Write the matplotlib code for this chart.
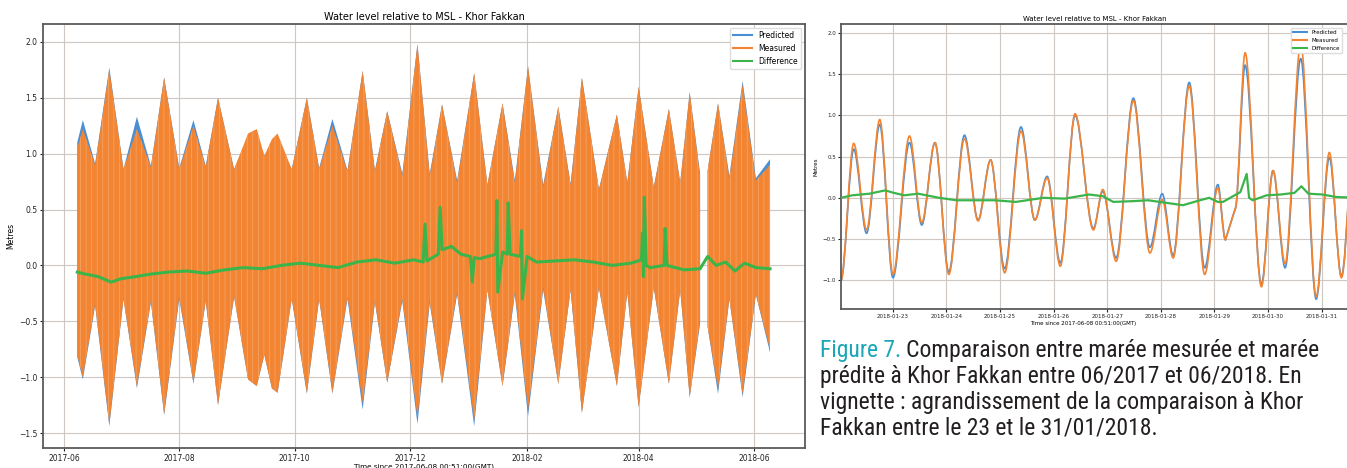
import matplotlib
matplotlib.use("Agg")
import matplotlib.pyplot as plt
import matplotlib.dates as mdates
from matplotlib import font_manager as fm
from matplotlib.path import Path
from matplotlib.patches import PathPatch
from matplotlib.lines import Line2D
import numpy as np
import pandas as pd

BLUE = "#4a8fd4"
ORANGE = "#f28432"
ORANGE_LIGHT = "#f6a96d"
GREEN = "#3bb44a"
SPINE = "#5a5a5a"
GRID = "#cfc7c2"

# main panel: high / low envelope of the series, days since 2017-06-01
env_day = [7.04, 10, 16.5, 24, 31.5, 38.6, 46, 53, 61, 68.5, 75, 81.5, 90, 97.4, 102, 106,
           110, 113, 120.5, 128.5, 135, 142, 150, 158, 164.5, 171, 179, 187, 193.5, 200,
           208, 217, 224, 232, 238.5, 245.5, 253.5, 261.5, 268, 274, 283, 292.5, 298, 304,
           312, 320, 326, 331, 336.5, 338.5, 340.5, 346, 352, 359, 366, 373.5]
env_hi_meas = [1.05, 1.22, 0.90, 1.75, 0.86, 1.22, 0.88, 1.68, 0.86, 1.25, 0.88, 1.50, 0.86, 1.18, 1.22, 0.98,
               1.13, 1.18, 0.86, 1.50, 0.86, 1.25, 0.84, 1.74, 0.84, 1.38, 0.80, 1.98, 0.80, 1.44,
               0.74, 1.72, 0.72, 1.45, 0.74, 1.78, 0.70, 1.42, 0.72, 1.68, 0.68, 1.35, 0.74, 1.60,
               0.70, 1.40, 0.74, 1.55, 0.80, np.nan, 0.85, 1.45, 0.78, 1.62, 0.76, 0.90]
env_hi_pred = [1.10, 1.30, 0.91, 1.77, 0.86, 1.33, 0.89, 1.68, 0.87, 1.30, 0.89, 1.50, 0.86, 1.15, 1.18, 0.98,
               1.08, 1.13, 0.86, 1.50, 0.87, 1.31, 0.85, 1.74, 0.85, 1.38, 0.82, 1.98, 0.82, 1.44,
               0.76, 1.72, 0.72, 1.45, 0.76, 1.78, 0.72, 1.42, 0.73, 1.68, 0.68, 1.35, 0.74, 1.60,
               0.70, 1.40, 0.74, 1.55, 0.82, np.nan, 0.85, 1.45, 0.80, 1.65, 0.78, 0.95]
env_lo_meas = [-0.80, -1.00, -0.35, -1.42, -0.30, -1.08, -0.32, -1.33, -0.28, -1.05, -0.32, -1.25, -0.28, -1.02, -1.08, -0.80,
               -1.10, -1.14, -0.30, -1.14, -0.30, -1.14, -0.28, -1.23, -0.32, -1.05, -0.30, -1.36, -0.32, -1.06,
               -0.24, -1.38, -0.22, -1.08, -0.24, -1.29, -0.20, -1.06, -0.22, -1.32, -0.20, -1.08, -0.24, -1.27,
               -0.20, -1.06, -0.22, -1.18, -0.50, np.nan, -0.55, -1.10, -0.30, -1.15, -0.26, -0.75]
env_lo_pred = [-0.82, -1.02, -0.36, -1.44, -0.30, -1.10, -0.33, -1.34, -0.30, -1.06, -0.32, -1.25, -0.28, -1.02, -1.08, -0.80,
               -1.10, -1.14, -0.30, -1.15, -0.30, -1.15, -0.30, -1.29, -0.33, -1.05, -0.32, -1.42, -0.34, -1.06,
               -0.26, -1.44, -0.22, -1.08, -0.26, -1.35, -0.22, -1.06, -0.22, -1.32, -0.20, -1.08, -0.24, -1.27,
               -0.20, -1.06, -0.22, -1.18, -0.52, np.nan, -0.55, -1.15, -0.30, -1.18, -0.26, -0.78]

# main panel: difference (measured - predicted)
diff_day = [7.04, 12, 18, 25, 30, 38, 45, 55, 65, 75, 85, 95, 105, 115, 125, 135, 145, 155, 165,
            175, 185, 190, 191, 192, 198, 199, 200, 205, 210, 215, 216, 217, 220, 228.5, 229, 229.5,
            232, 234.5, 235, 236, 241.5, 242, 242.5, 245, 250, 260, 270, 280, 290, 300, 305.5,
            306, 306.5, 307, 308, 310, 317.5, 318, 319, 328, 336.5, 340.5, 345, 350, 355, 360, 366, 373.5]
diff_val = [-0.06, -0.08, -0.10, -0.15, -0.12, -0.10, -0.08, -0.06, -0.05, -0.07, -0.04, -0.02, -0.03, 0.0, 0.02, 0.0, -0.02, 0.03, 0.05,
            0.02, 0.05, 0.03, 0.37, 0.04, 0.10, 0.52, 0.14, 0.17, 0.10, 0.08, -0.15, 0.07, 0.06, 0.10, 0.58, -0.24,
            0.12, 0.10, 0.56, 0.10, 0.08, 0.31, -0.30, 0.08, 0.03, 0.04, 0.05, 0.03, 0.0, 0.02, 0.05,
            0.29, -0.10, 0.61, 0.0, -0.02, 0.0, 0.33, 0.0, -0.04, -0.03, 0.08, 0.0, 0.03, -0.05, 0.02, -0.02, -0.03]

# inset: successive high / low waters, hours since 2018-01-22 00:00
ext_hour = [0.85, 6.55, 12.3, 18.2, 24.1, 31.5, 37.0, 42.9, 49.1, 56.1, 62.2, 67.8, 74.1, 81.4,
            87.6, 93.1, 99.0, 105.6, 113.8, 118.0, 124.0, 131.7, 139.1, 144.6, 149.5, 156.7,
            163.6, 169.5, 172.9, 177.3, 181.7, 189.0, 194.2, 199.6, 206.6, 213.5, 219.4,
            224.8, 232.2, 239.7]
ext_meas = [-1.00, 0.66, -0.39, 0.95, -0.93, 0.75, -0.30, 0.67, -0.93, 0.72, -0.28, 0.46, -0.91, 0.81,
            -0.27, 0.24, -0.83, 1.02, -0.39, 0.10, -0.77, 1.18, -0.67, -0.02, -0.73, 1.36,
            -0.93, 0.12, -0.51, -0.13, 1.76, -1.08, 0.33, -0.80, 1.87, -1.20, 0.55,
            -0.97, 1.60, -1.00]
ext_pred = [-1.00, 0.59, -0.43, 0.89, -0.97, 0.67, -0.33, 0.67, -0.90, 0.76, -0.27, 0.46, -0.86, 0.86,
            -0.27, 0.26, -0.79, 1.00, -0.37, 0.08, -0.73, 1.21, -0.60, 0.05, -0.70, 1.40,
            -0.85, 0.16, -0.51, -0.13, 1.61, -1.05, 0.33, -0.85, 1.69, -1.23, 0.49,
            -0.95, 1.50, -1.00]
gap_end = 29  # measured record has a hole before this point, drawn straight

inset_diff_hour = [0.85, 5.8, 13.6, 20.6, 24.5, 29.1, 35.4, 44.7, 52.5, 60.3, 69.7, 79.1, 91.5,
                   100.9, 111.8, 118.0, 122.7, 132.1, 138.3, 146.1, 153.9, 160.2, 165.6, 169.5,
                   171.8, 179.6, 182.4, 183.5, 185.1, 191.3, 197.6, 203.8, 206.9, 210.0, 216.3,
                   222.5, 231.9, 239.7]
inset_diff_val = [0.0, 0.03, 0.05, 0.09, 0.06, 0.03, 0.05, 0.0, -0.03, -0.03, -0.03, -0.05, 0.0,
                  -0.01, 0.04, 0.02, -0.05, -0.04, -0.03, -0.06, -0.09, -0.04, 0.0, -0.05,
                  -0.05, 0.07, 0.29, 0.0, -0.03, 0.03, 0.04, 0.06, 0.14, 0.05, 0.04,
                  0.01, 0.0, 0.0]

caption_head = "Figure 7."
caption_lines = ["Comparaison entre marée mesurée et marée",
                 "prédite à Khor Fakkan entre 06/2017 et 06/2018. En",
                 "vignette : agrandissement de la comparaison à Khor",
                 "Fakkan entre le 23 et le 31/01/2018."]


def smooth_path(x, y, straight_to=()):
    verts = [(x[0], y[0])]
    codes = [Path.MOVETO]
    for i in range(1, len(x)):
        if i in straight_to:
            verts.append((x[i], y[i]))
            codes.append(Path.LINETO)
            continue
        dx = (x[i] - x[i - 1]) / 3.0
        verts += [(x[i - 1] + dx, y[i - 1]), (x[i] - dx, y[i]), (x[i], y[i])]
        codes += [Path.CURVE4] * 3
    return Path(verts, codes)


def style_axes(ax, size):
    ax.grid(True, color=GRID, linewidth=0.8)
    for s in ax.spines.values():
        s.set_color(SPINE)
        s.set_linewidth(1.3)
    ax.tick_params(labelsize=size, colors="#222222", length=2.5, width=0.8, pad=1.5)


def narrow_font():
    prefs = ["Liberation Sans Narrow", "DejaVu Sans Condensed", "Noto Sans Condensed",
             "Roboto Condensed", "Open Sans Condensed"]
    fonts = [f for f in fm.fontManager.ttflist if f.style == "normal"
             and f.weight in (400, "normal", "regular", "book")]
    for p in prefs:
        for f in fonts:
            if f.name == p:
                return fm.FontProperties(fname=f.fname)
    for f in fonts:
        if f.stretch in ("condensed", "semi-condensed") or "Narrow" in f.name or "Condensed" in f.name:
            return fm.FontProperties(fname=f.fname)
    return fm.FontProperties(family="DejaVu Sans")


plt.rcParams["hatch.linewidth"] = 0.5

W, H = 1347, 468
fig = plt.figure(figsize=(W / 100, H / 100), dpi=100)

# ---------------- main panel
ax = fig.add_axes([43 / W, 1 - 448 / H, 762 / W, 424 / H])
t0 = pd.Timestamp("2017-06-01")
xd = mdates.date2num(t0 + pd.to_timedelta(env_day, unit="D"))
ax.fill_between(xd, env_lo_pred, env_hi_pred, color=BLUE, linewidth=0, zorder=2)
ax.fill_between(xd, env_lo_meas, env_hi_meas, facecolor=ORANGE, edgecolor=ORANGE_LIGHT,
                hatch="|||", linewidth=0, zorder=2.1)
xdd = mdates.date2num(t0 + pd.to_timedelta(diff_day, unit="D"))
ax.plot(xdd, diff_val, color=GREEN, linewidth=2.2, zorder=3)

ax.xaxis_date()
ax.set_xlim(mdates.date2num(pd.Timestamp("2017-05-20 22:00")), mdates.date2num(pd.Timestamp("2018-06-28")))
ax.set_ylim(-1.634, 2.16)
ax.set_yticks([-1.5, -1.0, -0.5, 0.0, 0.5, 1.0, 1.5, 2.0])
ax.xaxis.set_major_locator(mdates.MonthLocator(bymonth=[2, 4, 6, 8, 10, 12]))
ax.xaxis.set_major_formatter(mdates.DateFormatter("%Y-%m"))
style_axes(ax, 5.5)
ax.set_title("Water level relative to MSL - Khor Fakkan", fontsize=7, pad=3)
ax.set_ylabel("Metres", fontsize=5.5, labelpad=3)
ax.set_xlabel("Time since 2017-06-08 00:51:00(GMT)", fontsize=5.2, labelpad=0.5)
handles = [Line2D([], [], color=BLUE, lw=1.5), Line2D([], [], color=ORANGE, lw=1.5),
           Line2D([], [], color=GREEN, lw=1.5)]
ax.legend(handles, ["Predicted", "Measured", "Difference"], loc="upper right", fontsize=5.5,
          framealpha=1, edgecolor="#dddddd", handlelength=2.5)

# ---------------- inset (zoom on late January 2018); its right edge runs off the page
ax2 = fig.add_axes([841 / W, 1 - 309 / H, 527 / W, 285 / H])
t1 = pd.Timestamp("2018-01-22")
xe = mdates.date2num(t1 + pd.to_timedelta(ext_hour, unit="h"))
ax2.xaxis_date()
ax2.add_patch(PathPatch(smooth_path(xe, ext_pred, {gap_end}), facecolor="none",
                        edgecolor=BLUE, linewidth=1.2, transform=ax2.transData, zorder=2))
ax2.add_patch(PathPatch(smooth_path(xe, ext_meas, {gap_end}), facecolor="none",
                        edgecolor=ORANGE, linewidth=1.2, transform=ax2.transData, zorder=2.1))
xg = mdates.date2num(t1 + pd.to_timedelta(inset_diff_hour, unit="h"))
ax2.plot(xg, inset_diff_val, color=GREEN, linewidth=1.6, zorder=3)
ax2.set_xlim(xe[0], mdates.date2num(t1 + pd.Timedelta(hours=236.7)))
ax2.set_ylim(-1.35, 2.11)
ax2.set_yticks([-1.0, -0.5, 0.0, 0.5, 1.0, 1.5, 2.0])
ax2.xaxis.set_major_locator(mdates.DayLocator())
ax2.xaxis.set_major_formatter(mdates.DateFormatter("%Y-%m-%d"))
style_axes(ax2, 4)
ax2.tick_params(length=2)
ax2.set_title("Water level relative to MSL - Khor Fakkan", fontsize=5, pad=2, x=0.482)
ax2.set_ylabel("Metres", fontsize=4, labelpad=3)
ax2.set_xlabel("Time since 2017-06-08 00:51:00(GMT)", fontsize=4, labelpad=1.5, x=0.46)
ax2.legend(handles, ["Predicted", "Measured", "Difference"], loc="upper right", fontsize=4,
           framealpha=1, edgecolor="#dddddd", handlelength=2.5,
           bbox_to_anchor=(1345 / W, 1 - 25 / H), bbox_transform=fig.transFigure)

# ---------------- caption, sized so the longest line just fits the page
fp = narrow_font()
fp.set_size(16)
x0 = 820
base = [357, 383, 409, 435]
head = fig.text(x0 / W, 1 - base[0] / H, caption_head, color="#1aa6b7", va="baseline", fontproperties=fp)
rest = [fig.text(x0 / W, 1 - yb / H, txt, color="#231f20", va="baseline", fontproperties=fp)
        for txt, yb in zip(caption_lines, base)]
renderer = fig.canvas.get_renderer()
gap = 5
w1 = head.get_window_extent(renderer).width + gap + rest[0].get_window_extent(renderer).width
size = min(17.0, 16 * (W - 4 - x0) / w1)
head.set_fontsize(size)
for t in rest:
    t.set_fontsize(size)
bb = head.get_window_extent(renderer)
rest[0].set_x((bb.x1 + gap * size / 16) / W)

fig.savefig("out.png", dpi=100)
